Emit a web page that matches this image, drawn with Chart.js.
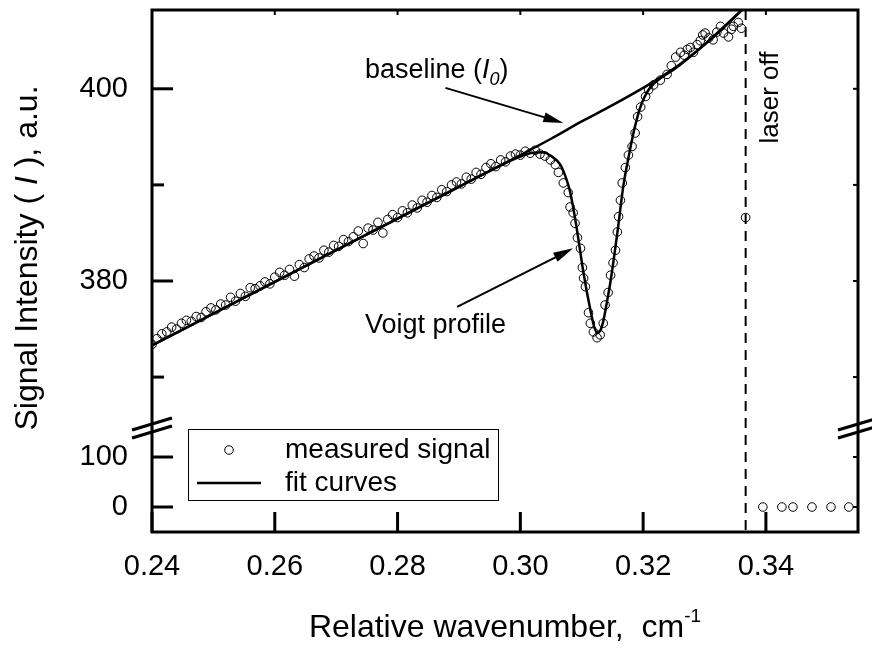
<!DOCTYPE html>
<html>
<head>
<meta charset="utf-8">
<title>Signal intensity vs relative wavenumber</title>
<script src="https://cdn.jsdelivr.net/npm/chart.js@4.4.1/dist/chart.umd.min.js"></script>
<style>
  html, body { margin: 0; padding: 0; background: #fff; }
  #chart { display: block; }
</style>
</head>
<body>
<canvas id="chart" width="872" height="651"></canvas>
<script>
// ------------------------------------------------------------
// DATA
// ------------------------------------------------------------

// measured signal, laser on (upper part of the broken axis)
const measuredX = [
    0.2400, 0.2408, 0.2416, 0.2424, 0.2432, 0.2440, 0.2448, 0.2456, 0.2464, 0.2472,
    0.2480, 0.2488, 0.2496, 0.2504, 0.2512, 0.2520, 0.2528, 0.2536, 0.2544, 0.2552,
    0.2560, 0.2568, 0.2576, 0.2584, 0.2592, 0.2600, 0.2608, 0.2616, 0.2624, 0.2632,
    0.2640, 0.2648, 0.2656, 0.2664, 0.2672, 0.2680, 0.2688, 0.2696, 0.2704, 0.2712,
    0.2720, 0.2728, 0.2736, 0.2744, 0.2752, 0.2760, 0.2768, 0.2776, 0.2784, 0.2792,
    0.2800, 0.2808, 0.2816, 0.2824, 0.2832, 0.2840, 0.2848, 0.2856, 0.2864, 0.2872,
    0.2880, 0.2888, 0.2896, 0.2904, 0.2912, 0.2920, 0.2928, 0.2936, 0.2944, 0.2952,
    0.2960, 0.2968, 0.2976, 0.2984, 0.2992, 0.3000, 0.3008, 0.3016, 0.3024, 0.3032,
    0.3040, 0.3049, 0.3057, 0.3062, 0.3070, 0.3078, 0.3081, 0.3086, 0.3089, 0.3093,
    0.3098, 0.3101, 0.3103, 0.3106, 0.3111, 0.3114, 0.3119, 0.3125, 0.3130, 0.3135,
    0.3138, 0.3143, 0.3147, 0.3151, 0.3155, 0.3158, 0.3160, 0.3163, 0.3166, 0.3171,
    0.3176, 0.3182, 0.3187, 0.3191, 0.3196, 0.3204, 0.3209, 0.3217, 0.3228, 0.3239,
    0.3246, 0.3253, 0.3261, 0.3267, 0.3272, 0.3277, 0.3282, 0.3288, 0.3293, 0.3297,
    0.3301, 0.3307, 0.3314, 0.3320, 0.3326, 0.3331, 0.3339, 0.3344, 0.3347, 0.3355,
    0.3360, 0.3367
];
const measuredY = [
    373.4, 374.0, 374.5, 374.7, 375.2, 375.0, 375.6, 375.9, 375.8, 376.3,
    376.2, 376.8, 377.2, 377.0, 377.6, 377.5, 378.3, 377.9, 378.7, 378.4,
    379.3, 379.2, 379.5, 379.9, 379.7, 380.4, 380.9, 380.6, 381.2, 380.5,
    381.7, 381.4, 382.3, 382.6, 382.4, 383.2, 383.0, 383.7, 383.6, 384.3,
    384.1, 384.6, 385.2, 383.9, 385.5, 385.3, 386.1, 385.0, 386.4, 386.9,
    386.6, 387.3, 387.1, 387.9, 387.6, 388.4, 388.2, 388.9, 388.7, 389.5,
    389.3, 390.0, 390.3, 390.1, 390.8, 390.6, 391.3, 391.1, 391.8, 392.2,
    391.9, 392.6, 392.4, 393.0, 393.2, 393.1, 393.5, 393.3, 393.6, 393.2,
    393.0, 392.6, 392.1, 391.3, 390.2, 389.2, 387.7, 387.1, 386.0, 384.5,
    383.4, 381.4, 380.3, 379.4, 376.7, 375.6, 374.7, 374.1, 374.4, 375.6,
    377.5, 378.8, 380.6, 381.9, 383.2, 385.1, 386.7, 388.4, 390.2, 391.8,
    393.1, 394.0, 395.4, 397.1, 398.1, 399.2, 399.9, 400.4, 400.9, 401.5,
    402.4, 403.3, 403.8, 403.5, 404.1, 404.3, 403.8, 404.6, 405.0, 405.6,
    405.8, 405.3, 405.1, 405.9, 406.5, 405.8, 405.4, 406.2, 406.5, 406.9,
    406.3, 386.6
];

// measured signal after the laser was switched off (lower part)
const laserOffX = [0.3395, 0.3426, 0.3444, 0.3475, 0.3506, 0.3535];
const laserOffY = [0, 0, 0, 0, 0, 0];

// Voigt profile fit
const fitX = [
    0.2400, 0.2500, 0.2600, 0.2700, 0.2800, 0.2900, 0.2980, 0.3000, 0.3020, 0.3037,
    0.3050, 0.3065, 0.3075, 0.3081, 0.3087, 0.3093, 0.3103, 0.3114, 0.3120, 0.3125,
    0.3130, 0.3135, 0.3141, 0.3147, 0.3158, 0.3168, 0.3176, 0.3185, 0.3195, 0.3210,
    0.3233, 0.3250, 0.3300, 0.3366
];
const fitY = [
    373.3, 376.6, 379.9, 383.2, 386.5, 389.8, 392.4, 392.95, 393.35, 393.4,
    393.0, 392.1, 390.6, 389.3, 387.3, 385.0, 380.8, 377.0, 375.3, 374.6,
    374.8, 375.8, 377.8, 380.0, 385.0, 390.0, 392.8, 395.6, 398.0, 400.0,
    401.3, 402.0, 404.6, 408.5
];

// baseline (I0)
const baselineX = [0.2400, 0.2600, 0.2800, 0.3000, 0.3050, 0.3100, 0.3150, 0.3200, 0.3250, 0.3300, 0.3330, 0.3366];
const baselineY = [373.3, 379.9, 386.5, 393.1, 394.8, 396.6, 398.3, 400.1, 402.1, 404.6, 406.3, 408.5];

const laserOffAt = 0.3367;

// axes
const xRange = [0.24, 0.355];
const upperRange = [364.7, 408.2];
const lowerRange = [-50, 158];
const xTicks = [0.24, 0.26, 0.28, 0.30, 0.32, 0.34];
const upperTicks = [370, 380, 390, 400];
const lowerTicks = [0, 50, 100];

// ------------------------------------------------------------
// STYLE
// ------------------------------------------------------------

const FONT = '"Liberation Sans", Arial, Helvetica, sans-serif';
const INK = '#000';

function pairs(xs, ys) {
    return xs.map((x, i) => ({ x: x, y: ys[i] }));
}

function fixTicks(values) {
    return scale => { scale.ticks = values.map(v => ({ value: v })); };
}

// fixed box size, no extra label padding pushed into the layout
function fixSize(prop, size) {
    return scale => {
        scale[prop] = size;
        scale.paddingTop = 0;
        scale.paddingBottom = 0;
        scale.paddingLeft = 0;
        scale.paddingRight = 0;
    };
}

// ------------------------------------------------------------
// PLUGINS
// ------------------------------------------------------------

const whiteBackground = {
    id: 'whiteBackground',
    beforeDraw(chart) {
        const { ctx, width, height } = chart;
        ctx.save();
        ctx.fillStyle = '#fff';
        ctx.fillRect(0, 0, width, height);
        ctx.restore();
    }
};

function line(ctx, x0, y0, x1, y1) {
    ctx.beginPath();
    ctx.moveTo(x0, y0);
    ctx.lineTo(x1, y1);
    ctx.stroke();
}

// frame, inward ticks, axis break, laser-off marker
const frame = {
    id: 'frame',
    afterDatasetsDraw(chart) {
        const { ctx, chartArea: a, scales } = chart;
        const x = scales.x;
        ctx.save();
        ctx.strokeStyle = INK;
        ctx.lineCap = 'butt';

        // laser off
        const xd = x.getPixelForValue(laserOffAt);
        ctx.lineWidth = 2;
        ctx.setLineDash([10, 7]);
        line(ctx, xd, a.top, xd, a.bottom);
        ctx.setLineDash([]);

        // x ticks
        for (const t of x.ticks) {
            const px = x.getPixelForValue(t.value);
            ctx.lineWidth = 3;
            line(ctx, px, a.bottom, px, a.bottom - 20);
            ctx.lineWidth = 2;
            line(ctx, px, a.top, px, a.top + 5);
        }
        // y ticks
        for (const s of [scales.y, scales.y2]) {
            for (const t of s.ticks) {
                const py = s.getPixelForValue(t.value);
                const major = t.label !== '';
                ctx.lineWidth = 3;
                line(ctx, a.left, py, a.left + (major ? 21 : 12), py);
                ctx.lineWidth = 2;
                line(ctx, a.right, py, a.right - 5, py);
            }
        }

        // frame
        ctx.lineWidth = 3;
        ctx.strokeRect(a.left, a.top, a.right - a.left, a.bottom - a.top);

        // axis break marks
        const yb = scales.y.bottom;
        for (const x0 of [a.left, a.right]) {
            for (const dy of [-4, 4]) {
                line(ctx, x0 - 20, yb + dy + 6, x0 + 20, yb + dy - 6);
            }
        }
        ctx.restore();
    }
};

// legend box inside the lower panel
const legendBox = {
    id: 'legendBox',
    afterDraw(chart) {
        const { ctx, chartArea: a, scales } = chart;
        const left = a.left + 36;
        const top = scales.y.bottom + 1;
        const w = 310, h = 71;
        ctx.save();
        ctx.fillStyle = '#fff';
        ctx.fillRect(left, top, w, h);
        ctx.strokeStyle = INK;
        ctx.lineWidth = 1;
        ctx.strokeRect(left + 0.5, top + 0.5, w, h);

        const sets = chart.data.datasets;
        const row1 = top + 21, row2 = top + 54;
        ctx.lineWidth = 1;
        ctx.beginPath();
        ctx.arc(left + 41, row1, 4.3, 0, Math.PI * 2);
        ctx.stroke();
        ctx.lineWidth = 2.5;
        line(ctx, left + 9, row2, left + 73, row2);

        ctx.fillStyle = INK;
        ctx.font = '28px ' + FONT;
        ctx.textBaseline = 'middle';
        ctx.fillText(sets[0].label, left + 97, row1);
        ctx.fillText(sets[2].label, left + 97, row2);
        ctx.restore();
    }
};

function arrow(ctx, x0, y0, x1, y1) {
    const ang = Math.atan2(y1 - y0, x1 - x0);
    const head = 20, half = 5;
    const c = Math.cos(ang), s = Math.sin(ang);
    ctx.lineWidth = 2;
    line(ctx, x0, y0, x1 - head * 0.8 * c, y1 - head * 0.8 * s);
    ctx.beginPath();
    ctx.moveTo(x1, y1);
    ctx.lineTo(x1 - head * c + half * s, y1 - head * s - half * c);
    ctx.lineTo(x1 - head * c - half * s, y1 - head * s + half * c);
    ctx.closePath();
    ctx.fill();
}

// draw a list of [text, font, dy] pieces one after another
function runs(ctx, pieces, x, y) {
    for (const [text, font, dy] of pieces) {
        ctx.font = font;
        ctx.fillText(text, x, y + dy);
        x += ctx.measureText(text).width;
    }
}

function runsWidth(ctx, pieces) {
    let w = 0;
    for (const [text, font] of pieces) {
        ctx.font = font;
        w += ctx.measureText(text).width;
    }
    return w;
}

// annotations and axis titles
const notes = {
    id: 'notes',
    afterDraw(chart) {
        const { ctx, chartArea: a, scales } = chart;
        const x = scales.x, y = scales.y;
        const px = v => x.getPixelForValue(v);
        const py = v => y.getPixelForValue(v);
        ctx.save();
        ctx.fillStyle = INK;
        ctx.strokeStyle = INK;
        ctx.textBaseline = 'alphabetic';
        ctx.textAlign = 'left';

        const f27 = '27px ' + FONT;
        const i27 = 'italic 27px ' + FONT;
        const i18 = 'italic 18px ' + FONT;

        // baseline (I0)
        runs(ctx, [['baseline (', f27, 0], ['I', i27, 0], ['0', i18, 7], [')', f27, 0]], px(0.2747), py(401.15));
        arrow(ctx, px(0.2878), py(400.1), px(0.3070), py(396.45));

        // Voigt profile
        ctx.font = f27;
        ctx.fillText('Voigt profile', px(0.2747), py(374.6));
        arrow(ctx, px(0.2897), py(377.3), px(0.3086), py(383.4));

        // laser off
        ctx.save();
        ctx.translate(px(0.3419), py(399.1));
        ctx.rotate(-Math.PI / 2);
        ctx.textAlign = 'center';
        ctx.font = '26px ' + FONT;
        ctx.fillText('laser off', 0, 0);
        ctx.restore();

        // x title
        const f32 = '32px ' + FONT;
        const xt = [['Relative wavenumber,  cm', f32, 0], ['-1', '19px ' + FONT, -15]];
        runs(ctx, xt, (a.left + a.right) / 2 - runsWidth(ctx, xt) / 2, 637);

        // y title
        const yt = [['Signal Intensity ( ', f32, 0], ['I', 'italic 32px ' + FONT, 0], [' ), a.u.', f32, 0]];
        ctx.save();
        ctx.translate(37, 258);
        ctx.rotate(-Math.PI / 2);
        runs(ctx, yt, -runsWidth(ctx, yt) / 2, 0);
        ctx.restore();

        ctx.restore();
    }
};

// ------------------------------------------------------------
// CHART
// ------------------------------------------------------------

const tickFont = { family: FONT, size: 29 };

const pointStyle = {
    showLine: false,
    pointStyle: 'circle',
    pointRadius: 4.3,
    pointBorderWidth: 1,
    borderColor: INK,
    backgroundColor: 'rgba(0,0,0,0)'
};

const curveStyle = {
    showLine: true,
    pointRadius: 0,
    borderColor: INK,
    borderWidth: 2.5,
    cubicInterpolationMode: 'monotone'
};

const hiddenGrid = { display: false, drawTicks: false };

new Chart(document.getElementById('chart'), {
    type: 'scatter',
    data: {
        datasets: [
            { label: 'measured signal', data: pairs(measuredX, measuredY), yAxisID: 'y', ...pointStyle },
            { label: 'measured signal, laser off', data: pairs(laserOffX, laserOffY), yAxisID: 'y2', ...pointStyle },
            { label: 'fit curves', data: pairs(fitX, fitY), yAxisID: 'y', ...curveStyle },
            { label: 'baseline', data: pairs(baselineX, baselineY), yAxisID: 'y', ...curveStyle }
        ]
    },
    options: {
        responsive: false,
        animation: false,
        devicePixelRatio: 1,
        layout: { padding: { top: 10, right: 14, left: 0, bottom: 0 } },
        plugins: {
            legend: { display: false },
            tooltip: { enabled: false }
        },
        scales: {
            x: {
                type: 'linear',
                min: xRange[0],
                max: xRange[1],
                grid: hiddenGrid,
                border: { display: false },
                afterBuildTicks: fixTicks(xTicks),
                afterFit: fixSize('height', 119),
                ticks: {
                    font: tickFont,
                    color: INK,
                    padding: 18,
                    maxRotation: 0,
                    autoSkip: false,
                    callback: v => v.toFixed(2)
                }
            },
            y: {
                type: 'linear',
                position: 'left',
                stack: 'intensity',
                stackWeight: 4.02,
                weight: 2,
                min: upperRange[0],
                max: upperRange[1],
                grid: hiddenGrid,
                border: { display: false },
                afterBuildTicks: fixTicks(upperTicks),
                afterFit: fixSize('width', 152),
                ticks: {
                    font: tickFont,
                    color: INK,
                    padding: 24,
                    callback: v => (v % 20 === 0 ? String(v) : '')
                }
            },
            y2: {
                type: 'linear',
                position: 'left',
                stack: 'intensity',
                stackWeight: 1,
                weight: 1,
                min: lowerRange[0],
                max: lowerRange[1],
                grid: hiddenGrid,
                border: { display: false },
                afterBuildTicks: fixTicks(lowerTicks),
                afterFit: fixSize('width', 152),
                ticks: {
                    font: tickFont,
                    color: INK,
                    padding: 24,
                    callback: v => (v % 100 === 0 ? String(v) : '')
                }
            }
        }
    },
    plugins: [whiteBackground, frame, legendBox, notes]
});
</script>
</body>
</html>
